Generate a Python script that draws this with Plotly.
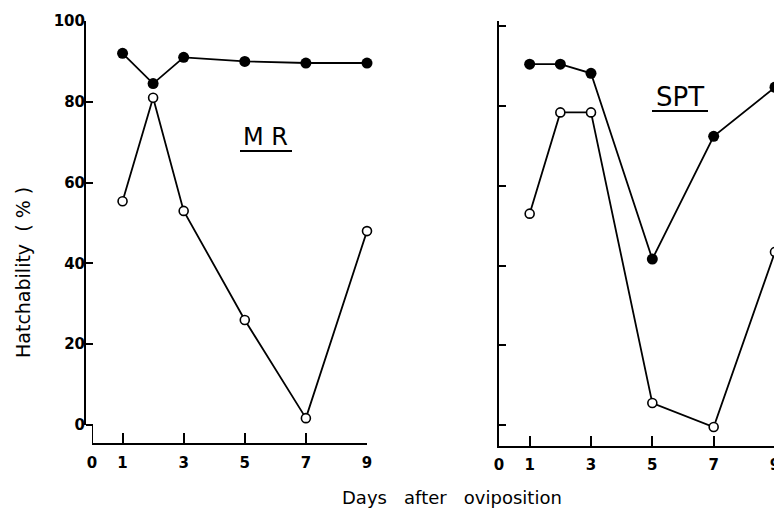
import plotly.graph_objects as go

W, H = 782, 512
OFF = 8  # page body margin of the viewer, compensated in the pixel helpers

# ---- data ----
days = [1, 2, 3, 5, 7, 9]
mr_filled = [92, 84.5, 91, 90, 89.6, 89.6]
mr_open = [55.4, 81, 53, 26, 1.7, 48]
spt_filled = [90.5, 90.5, 88.2, 41.6, 72.4, 84.7]
spt_open = [53, 78.4, 78.4, 5.5, -0.5, 43.4]
x_ticks = [0, 1, 3, 5, 7, 9]
y_ticks = [0, 20, 40, 60, 80, 100]
y_tick_labels = ["0", "20", "40", "60", "80", "100"]


def px(x):
    return (x - OFF) / W


def py(y):
    return 1 - (y - OFF) / H


FONT = "DejaVu Sans"
fig = go.Figure()

filled_marker = dict(symbol="circle", size=11, color="black")
open_marker = dict(symbol="circle", size=9, color="white", line=dict(color="black", width=1.6))
line_style = dict(color="black", width=1.8)

for xa, ya, fv, ov in [("x", "y", mr_filled, mr_open), ("x2", "y2", spt_filled, spt_open)]:
    fig.add_trace(go.Scatter(x=days, y=ov, mode="lines+markers", marker=open_marker,
                             line=line_style, xaxis=xa, yaxis=ya, showlegend=False,
                             cliponaxis=False))
    fig.add_trace(go.Scatter(x=days, y=fv, mode="lines+markers", marker=filled_marker,
                             line=line_style, xaxis=xa, yaxis=ya, showlegend=False,
                             cliponaxis=False))

# left panel geometry: 0 at y=425, 100 at y=21, x-axis at y=443
l_scale = (425 - 21) / 100.0
l_bottom = -(443 - 425) / l_scale
# right panel: 0 at 425, 80 at 106, x-axis at 446
r_scale = (425 - 106) / 80.0
r_bottom = -(446 - 425) / r_scale
r_top = (425 - 21) / r_scale

tickfont = dict(family=FONT, size=15, color="black", weight="bold")

common = dict(showgrid=False, zeroline=False, automargin=False)

fig.update_layout(
    width=W, height=H,
    margin=dict(l=0, r=0, t=0, b=0, pad=0, autoexpand=False),
    paper_bgcolor="white", plot_bgcolor="white",
    xaxis=dict(domain=[px(92), px(367)], range=[0, 9], anchor="y",
               tickvals=x_ticks, ticktext=[str(v) for v in x_ticks],
               ticks="inside", ticklen=10, tickwidth=1.8, tickcolor="black",
               showline=True, linewidth=2, linecolor="black", ticklabelstandoff=5,
               tickfont=tickfont, **common),
    yaxis=dict(domain=[py(443), py(21)], range=[l_bottom, 100], anchor="free",
               position=px(85),
               tickvals=y_ticks, ticktext=y_tick_labels,
               ticks="inside", ticklen=7, tickwidth=1.5, tickcolor="black",
               showline=False, tickfont=tickfont, **common),
    xaxis2=dict(domain=[px(499), px(775)], range=[0, 9], anchor="y2",
                tickvals=x_ticks, ticktext=[str(v) for v in x_ticks],
                ticks="inside", ticklen=10, tickwidth=1.8, tickcolor="black",
                showline=True, linewidth=2, linecolor="black", ticklabelstandoff=4,
                tickfont=tickfont, **common),
    yaxis2=dict(domain=[py(446), py(21)], range=[r_bottom, r_top], anchor="x2",
                tickvals=y_ticks, showticklabels=False,
                ticks="inside", ticklen=7, tickwidth=1.5, tickcolor="black",
                showline=True, linewidth=2, linecolor="black", **common),
)

# left axis line with the step at zero
fig.add_shape(type="line", xref="paper", yref="y", x0=px(85), x1=px(85), y0=0, y1=100,
              line=dict(color="black", width=2))
fig.add_shape(type="line", xref="x", yref="y", x0=0, x1=0, y0=0, y1=l_bottom,
              line=dict(color="black", width=2))

# labels
ann_common = dict(xref="paper", yref="paper", showarrow=False, xanchor="center", yanchor="middle")
fig.add_annotation(text="Hatchability  ( % )", x=px(23), y=py(273), textangle=-90,
                   font=dict(family=FONT, size=19, color="black"), **ann_common)
fig.add_annotation(text="Days   after   oviposition", x=px(452), y=py(497),
                   font=dict(family=FONT, size=18, color="black"), **ann_common)
fig.add_annotation(text="M R", x=px(265), y=py(137),
                   font=dict(family=FONT, size=24, color="black"), **ann_common)
fig.add_annotation(text="SPT", x=px(680), y=py(97),
                   font=dict(family=FONT, size=26, color="black"), **ann_common)
fig.add_shape(type="line", xref="paper", yref="paper", x0=px(240), x1=px(292), y0=py(151), y1=py(151),
              line=dict(color="black", width=2))
fig.add_shape(type="line", xref="paper", yref="paper", x0=px(652), x1=px(708), y0=py(111), y1=py(111),
              line=dict(color="black", width=2))

fig.write_html("out.html")
